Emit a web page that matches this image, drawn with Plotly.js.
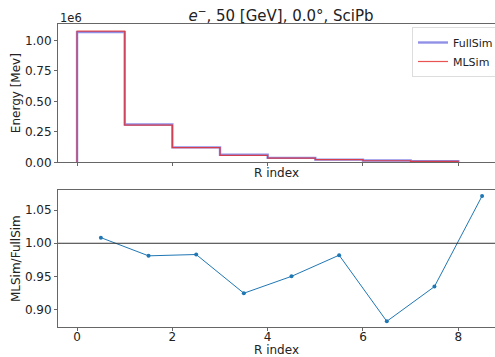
<!DOCTYPE html>
<html>
<head>
<meta charset="utf-8">
<script src="https://cdn.plot.ly/plotly-3.0.1.min.js"></script>
<style>html,body{margin:0;padding:0;background:#fff;}#chart{width:495px;height:357px;}</style>
</head>
<body>
<div id="chart"></div>
<script>
// Bin edges of the radial profile (R index)
const binEdges = [0, 1, 2, 3, 4, 5, 6, 7, 8];
// Energy per R bin [MeV]
const fullSim = [1.067e6, 0.310e6, 0.122e6, 0.062e6, 0.036e6, 0.022e6, 0.0145e6, 0.0085e6];
const mlSim   = [1.076e6, 0.305e6, 0.120e6, 0.0575e6, 0.0343e6, 0.0216e6, 0.0128e6, 0.0079e6];
// Ratio MLSim / FullSim at bin centres
const ratioX = [0.5, 1.5, 2.5, 3.5, 4.5, 5.5, 6.5, 7.5, 8.5];
const ratioY = [1.0085, 0.981, 0.983, 0.9245, 0.950, 0.982, 0.882, 0.9345, 1.0715];
const xTicks = [0, 2, 4, 6, 8];
const yTicksTop = [0, 0.25e6, 0.5e6, 0.75e6, 1.0e6];
const yTickTextTop = ['0.00', '0.25', '0.50', '0.75', '1.00'];
const yTicksBot = [0.90, 0.95, 1.00, 1.05];

function stepTrace(vals) {
  const xs = [binEdges[0]], ys = [0];
  for (let i = 0; i < vals.length; i++) { xs.push(binEdges[i]); ys.push(vals[i]); }
  xs.push(binEdges[vals.length]); ys.push(vals[vals.length - 1]);
  xs.push(binEdges[vals.length]); ys.push(0);
  return {x: xs, y: ys};
}
const fs = stepTrace(fullSim), ml = stepTrace(mlSim);

const W = 495, H = 357, L = 58;
const tc = '#222';
const F = (s) => ({family: 'DejaVu Sans', size: s, color: tc});
const axCol = '#666';
const xr = [-0.4, -0.4 + (W - L) / 47.65];

const traces = [
  {x: fs.x, y: fs.y, type: 'scatter', mode: 'lines', line: {shape: 'hv', color: 'rgba(70,70,215,0.6)', width: 2.4}, name: 'FullSim', xaxis: 'x', yaxis: 'y'},
  {x: ml.x, y: ml.y, type: 'scatter', mode: 'lines', line: {shape: 'hv', color: 'rgba(228,40,40,0.8)', width: 1.2}, name: 'MLSim', xaxis: 'x', yaxis: 'y'},
  {x: ratioX, y: ratioY, type: 'scatter', mode: 'lines+markers', line: {color: '#1f77b4', width: 1}, marker: {color: '#1f77b4', size: 4}, showlegend: false, xaxis: 'x2', yaxis: 'y2'}
];

const py = (pix) => (H - pix) / H;
const topDom = [py(162.3), py(24)];
const botDom = [py(327.3), py(190)];

const layout = {
  width: W, height: H,
  margin: {l: L, r: 0, t: 0, b: 0, autoexpand: false},
  paper_bgcolor: '#fff', plot_bgcolor: '#fff',
  font: F(12),
  showlegend: true,
  title: {text: '<i>e</i><sup>−</sup>, 50 [GeV], 0.0°, SciPb', font: F(15), x: 281 / W, xref: 'container', xanchor: 'center', y: py(16), yref: 'container', yanchor: 'middle', automargin: false},
  legend: {x: (412 - L) / (W - L), y: py(27), xanchor: 'left', yanchor: 'top', xref: 'paper', yref: 'paper', bgcolor: '#fff', bordercolor: '#ddd', borderwidth: 1, font: F(11), itemwidth: 30, tracegroupgap: 0},
  xaxis: {domain: [0, 1], anchor: 'y', range: xr, tickvals: xTicks, showticklabels: false, ticks: 'outside', ticklen: 3, tickcolor: axCol, showgrid: false, zeroline: false, showline: true, linecolor: axCol, linewidth: 1, mirror: true, automargin: false,
    title: {text: 'R index', font: F(12), standoff: 3}},
  yaxis: {domain: topDom, anchor: 'x', range: [0, 1.134e6], tickvals: yTicksTop, ticktext: yTickTextTop, ticks: 'outside', ticklen: 3, tickcolor: axCol, showgrid: false, zeroline: false, showline: true, linecolor: axCol, linewidth: 1, automargin: false,
    title: {text: 'Energy [Mev]', font: F(12), standoff: 1}, tickfont: F(12)},
  xaxis2: {domain: [0, 1], anchor: 'y2', range: xr, tickvals: xTicks, ticks: 'outside', ticklen: 3, tickcolor: axCol, showgrid: false, zeroline: false, showline: true, linecolor: axCol, linewidth: 1, mirror: true, automargin: false,
    ticklabelstandoff: -5,
    title: {text: 'R index', font: F(12), standoff: 4}, tickfont: F(12)},
  yaxis2: {domain: botDom, anchor: 'x2', range: [0.873, 1.0805], tickvals: yTicksBot, tickformat: '.2f', ticks: 'outside', ticklen: 3, tickcolor: axCol, showgrid: false, zeroline: false, showline: true, linecolor: axCol, linewidth: 1, automargin: false,
    title: {text: 'MLSim/FullSim', font: F(12), standoff: 1}, tickfont: F(12)},
  shapes: [
    {type: 'line', xref: 'x2 domain', yref: 'y2', x0: 0, x1: 1, y0: 1, y1: 1, line: {color: '#333', width: 1}}
  ],
  annotations: [
    {text: '1e6', xref: 'paper', yref: 'paper', x: 0, y: py(18), xanchor: 'left', yanchor: 'middle', showarrow: false, font: F(11.5)}
  ]
};

Plotly.newPlot('chart', traces, layout, {displayModeBar: false, staticPlot: true});
</script>
</body>
</html>
